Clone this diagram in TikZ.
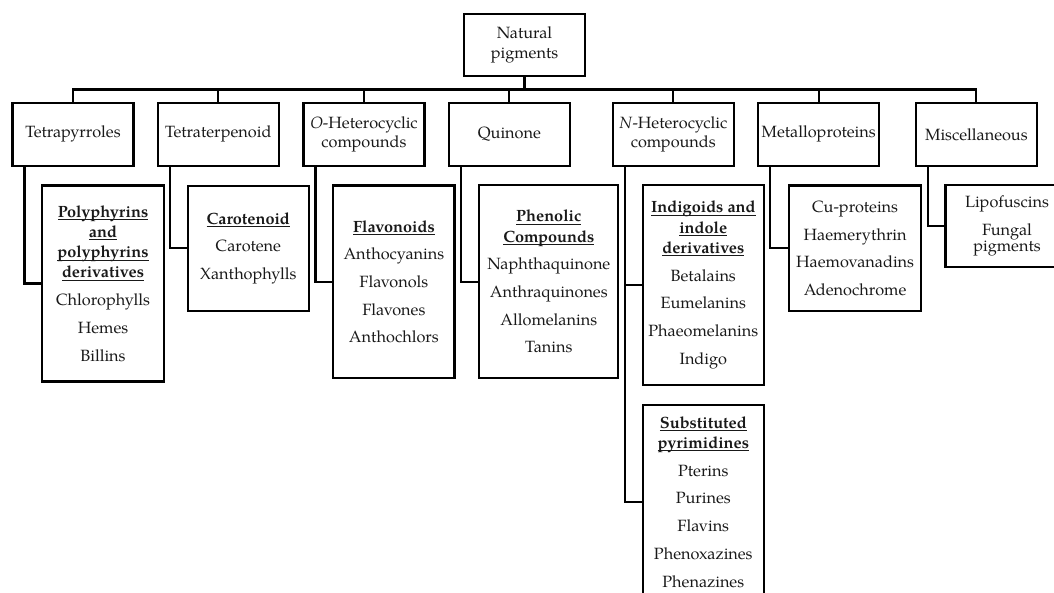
\documentclass[tikz,border=0pt]{standalone}
\usepackage{fontspec}
\setmainfont{texgyrepagella}[Extension=.otf, UprightFont=*-regular, BoldFont=*-bold, ItalicFont=*-italic, BoldItalicFont=*-bolditalic]
% bold group heading with a rule at a fixed depth under the baseline
\newcommand\ultitle[1]{\setbox0\hbox{\bfseries #1}\leavevmode\rlap{\rule[-2.8pt]{\wd0}{1pt}}\box0}
\begin{document}
\begin{tikzpicture}[x=1pt, y=-1pt,
  box/.style={draw, rectangle, line width=2.1pt, inner sep=0pt, outer sep=0pt,
    align=center, font=\fontsize{16.3}{20.2}\selectfont, text=black!90},
  cat/.style={box, minimum width=121pt, minimum height=63.4pt},
  link/.style={line width=2.1pt}]
\useasboundingbox (0,0) rectangle (1054,592);
\clip (0,0) rectangle (1054,592);

% root
\node[box, minimum width=121pt, minimum height=62pt] (root) at (524.5,45.2) {Natural\\pigments};

% classes
\node[cat] (tetra) at (73,134.3)    {Tetrapyrroles};
\node[cat] (terp)  at (218.3,134.3) {Tetraterpenoid};
\node[cat] (ohet)  at (364,134.3)   {\textit{O}-Heterocyclic\\[-0.8pt]compounds};
\node[cat] (quin)  at (509.4,134.3) {Quinone};
\node[cat] (nhet)  at (673.3,134.3) {\textit{N}-Heterocyclic\\[-0.8pt]compounds};
\node[cat] (metal) at (818.7,134.3) {Metalloproteins};
\node[cat] (misc)  at (976.4,134.3) {Miscellaneous};

% members of each class
\node[box, minimum width=121.2pt, minimum height=196pt] (poly) at (103,283.5)
  {\ultitle{Polyphyrins}\\\ultitle{and}\\\ultitle{polyphyrins}\\\ultitle{derivatives}\\[7.5pt]
   Chlorophylls\\[7.5pt]Hemes\\[7.5pt]Billins};
\node[box, minimum width=120.5pt, minimum height=125.7pt] (caro) at (248.3,248.4)
  {\ultitle{Carotenoid}\\[7.5pt]Carotene\\[7.5pt]Xanthophylls};
\node[box, minimum width=121.2pt, minimum height=192.5pt] (flav) at (393.9,281.7)
  {\ultitle{Flavonoids}\\[7.5pt]Anthocyanins\\[7.5pt]Flavonols\\[7.5pt]Flavones\\[7.5pt]Anthochlors};
\node[box, minimum width=139pt, minimum height=193.3pt] (phen) at (548.8,281.7)
  {\ultitle{Phenolic}\\\ultitle{Compounds}\\[7.5pt]Naphthaquinone\\[7.5pt]Anthraquinones\\[7.5pt]Allomelanins\\[7.5pt]Tanins};
\node[box, minimum width=121.3pt, minimum height=199.3pt] (indi) at (703.3,285)
  {\ultitle{Indigoids and}\\\ultitle{indole}\\\ultitle{derivatives}\\[7.5pt]
   Betalains\\[7.5pt]Eumelanins\\[7.5pt]Phaeomelanins\\[7.5pt]Indigo};
\node[box, minimum width=121.3pt, minimum height=194pt] (subs) at (703.3,502)
  {\ultitle{Substituted}\\\ultitle{pyrimidines}\\[7.5pt]
   Pterins\\[7.5pt]Purines\\[7.5pt]Flavins\\[7.5pt]Phenoxazines\\[7.5pt]Phenazines};
\node[box, minimum width=132.2pt, minimum height=125.8pt] (metc) at (855.1,248.4)
  {Cu-proteins\\[7.5pt]Haemerythrin\\[7.5pt]Haemovanadins\\[7.5pt]Adenochrome};
\node[box, minimum width=123pt, minimum height=82pt] (miscc) at (1007,226)
  {Lipofuscins\\[7.5pt]Fungal\\[-4pt]pigments};

% tree connectors
\coordinate (bus) at (0,89.5);
\draw[link] (root.south) -- (root.south |- bus);
\draw[link] (tetra.north) |- (misc.north |- bus) -- (misc.north);
\foreach \c in {terp,ohet,quin,nhet,metal}
  \draw[link] (\c.north) -- (\c.north |- bus);

\draw[link] ([xshift=12pt]tetra.south west) |- (poly.west);
\draw[link] ([xshift=12pt]terp.south west)  |- (caro.west);
\draw[link] ([xshift=12pt]ohet.south west)  |- (flav.west);
\draw[link] ([xshift=12pt]quin.south west)  |- (phen.west);
\draw[link] ([xshift=12pt]nhet.south west)  |- (indi.west);
\draw[link] ([xshift=12pt]nhet.south west)  |- (subs.west);
\draw[link] ([xshift=12pt]metal.south west) |- (metc.west);
\draw[link] ([xshift=12pt]misc.south west)  |- (miscc.west);
\end{tikzpicture}
\end{document}
